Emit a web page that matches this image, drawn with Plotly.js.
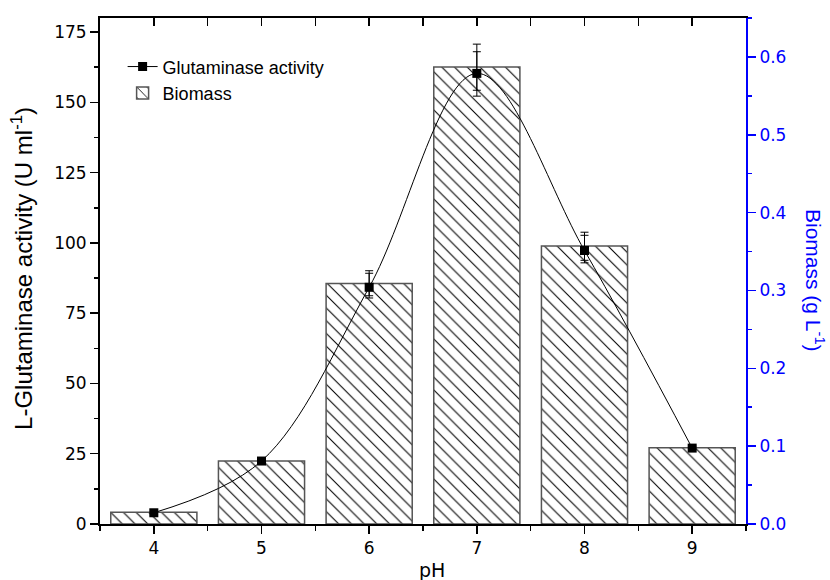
<!DOCTYPE html>
<html>
<head>
<meta charset="utf-8">
<script src="https://cdn.plot.ly/plotly-3.0.1.min.js"></script>
<style>html,body{margin:0;padding:0;background:#fff;}#chart{width:830px;height:580px;}</style>
</head>
<body>
<div id="chart"></div>
<script>
// Data
const pH = [4, 5, 6, 7, 8, 9];
const activity = [4.0, 22.4, 84.2, 160.3, 97.3, 27.0];
const errOuterPlus = [1.0, 1.0, 5.9, 10.4, 6.5, 0.8];
const errOuterMinus = [1.0, 1.0, 3.8, 8.1, 4.4, 0.8];
const errInnerPlus = [0.5, 0.5, 5.0, 7.7, 5.4, 0.5];
const errInnerMinus = [0.5, 0.5, 3.0, 6.0, 3.5, 0.5];
const biomass = [0.015, 0.081, 0.309, 0.587, 0.357, 0.098];
const leftTicks = [0, 25, 50, 75, 100, 125, 150, 175];
const rightTicks = [0.0, 0.1, 0.2, 0.3, 0.4, 0.5, 0.6];

const tickFont = {family: 'DejaVu Sans', size: 17, color: '#000'};

// Bars on the primary (right, blue) axis so the activity line (overlay axis) is drawn above them
const traces = [
  {
    type: 'bar', name: 'Biomass', x: pH, y: biomass, yaxis: 'y', width: 0.8,
    marker: {color: '#fff', line: {color: '#555', width: 1.5},
      pattern: {shape: '\\', fgcolor: '#000', bgcolor: '#fff', size: 9, solidity: 0.12}},
    hoverinfo: 'skip'
  },
  {
    type: 'scatter', mode: 'markers', x: [null], y: [null], xaxis: 'x2', yaxis: 'y', showlegend: false, hoverinfo: 'skip'
  },
  {
    type: 'scatter', mode: 'markers', x: pH, y: activity, yaxis: 'y2', showlegend: false,
    marker: {size: 1, color: 'rgba(0,0,0,0)'},
    error_y: {type: 'data', symmetric: false, array: errInnerPlus, arrayminus: errInnerMinus, color: '#000', thickness: 1, width: 4},
    hoverinfo: 'skip'
  },
  {
    type: 'scatter', mode: 'lines+markers', name: 'Glutaminase activity', x: pH, y: activity, yaxis: 'y2',
    line: {shape: 'spline', smoothing: 1, color: '#000', width: 1},
    marker: {symbol: 'square', size: 9, color: '#000'},
    error_y: {type: 'data', symmetric: false, array: errOuterPlus, arrayminus: errOuterMinus, color: '#000', thickness: 1, width: 4},
    hoverinfo: 'skip'
  }
];

const layout = {
  width: 830, height: 580,
  margin: {l: 100, r: 84, t: 18, b: 56},
  paper_bgcolor: '#fff', plot_bgcolor: '#fff',
  showlegend: true,
  legend: {x: 0.035, y: 0.94, xanchor: 'left', yanchor: 'top', bgcolor: 'rgba(0,0,0,0)',
    font: {family: 'Liberation Sans', size: 18, color: '#000'}, traceorder: 'reversed', tracegroupgap: 0},
  xaxis: {
    range: [3.5, 9.5], tickvals: pH, ticktext: pH.map(String), ticks: 'outside', ticklen: 8, tickwidth: 1.5,
    tickcolor: '#000', showline: true, linecolor: '#000', linewidth: 2, showgrid: false, zeroline: false,
    tickfont: tickFont,
    minor: {dtick: 0.5, tick0: 3.5, ticks: 'outside', ticklen: 5, tickwidth: 1.5, tickcolor: '#000', showgrid: false}
  },
  xaxis2: {
    overlaying: 'x', side: 'top', range: [3.5, 9.5], dtick: 0.5, tick0: 4, ticks: 'inside', ticklen: 8, tickwidth: 1.5,
    tickcolor: '#000', showline: true, linecolor: '#000', linewidth: 2, showgrid: false, zeroline: false,
    showticklabels: false
  },
  yaxis: {
    side: 'right', range: [0, 0.65], tickvals: rightTicks, tickformat: '.1f',
    ticks: 'outside', ticklen: 8, tickwidth: 1.5, tickcolor: '#0000ff',
    showline: true, linecolor: '#0000ff', linewidth: 2, showgrid: false, zeroline: false,
    tickfont: {family: 'DejaVu Sans', size: 17, color: '#0000ff'},
    minor: {dtick: 0.05, tick0: 0, ticks: 'outside', ticklen: 4, tickwidth: 1.5, tickcolor: '#0000ff', showgrid: false}
  },
  yaxis2: {
    overlaying: 'y', side: 'left', range: [0, 180], tickvals: leftTicks, ticks: 'outside', ticklen: 8, tickwidth: 1.5, tickcolor: '#000',
    showline: true, linecolor: '#000', linewidth: 2, showgrid: false, zeroline: false, tickfont: tickFont,
    minor: {dtick: 12.5, tick0: 0, ticks: 'outside', ticklen: 4, tickwidth: 1.5, tickcolor: '#000', showgrid: false}
  },
  annotations: [
    {text: 'L-Glutaminase activity (U ml<sup>-1</sup>)', xref: 'paper', yref: 'paper', x: -0.12, y: 0.505,
      xanchor: 'center', yanchor: 'middle', textangle: -90, showarrow: false,
      font: {family: 'Liberation Sans', size: 24, color: '#000'}},
    {text: 'Biomass (g L<sup>-1</sup>)', xref: 'paper', yref: 'paper', x: 1.107, y: 0.482,
      xanchor: 'center', yanchor: 'middle', textangle: 90, showarrow: false,
      font: {family: 'Liberation Sans', size: 21, color: '#0000ff'}},
    {text: 'pH', xref: 'paper', yref: 'paper', x: 0.514, y: -0.091,
      xanchor: 'center', yanchor: 'middle', showarrow: false,
      font: {family: 'DejaVu Sans', size: 19, color: '#000'}}
  ]
};

Plotly.newPlot('chart', traces, layout, {displayModeBar: false, staticPlot: true});
</script>
</body>
</html>
